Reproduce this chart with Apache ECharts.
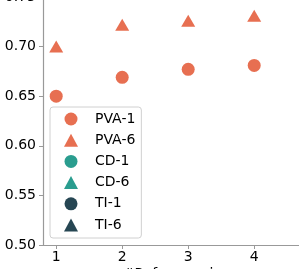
<!DOCTYPE html>
<html>
<head>
<meta charset="utf-8">
<script src="https://cdn.jsdelivr.net/npm/echarts@6/dist/echarts.min.js"></script>
<style>html,body{margin:0;padding:0;background:#fff;}#c{width:299px;height:269px;}</style>
</head>
<body>
<div id="c"></div>
<script>
// Data
const xValues = [1, 2, 3, 4];
const pva1 = [0.650, 0.669, 0.677, 0.681];
const pva6 = [0.700, 0.722, 0.726, 0.731];
const cd1 = [];   // not visible in the cropped view
const cd6 = [];
const ti1 = [];
const ti6 = [];
const xTicks = [1, 2, 3, 4, 5];
const yTickLabels = ['0.50', '0.55', '0.60', '0.65', '0.70', '0.75'];
const seriesNames = ['PVA-1', 'PVA-6', 'CD-1', 'CD-6', 'TI-1', 'TI-6'];

const C_PVA = '#e76f51', C_CD = '#2a9d8f', C_TI = '#264653';
const FONT = 'DejaVu Sans';
const pair = (ys) => ys.map((y, i) => [xValues[i], y]);

function mk(name, ys, color, shape) {
  return {
    name, type: 'scatter', data: pair(ys),
    symbol: shape,
    symbolSize: shape === 'circle' ? 13 : [14, 12],
    itemStyle: { color, opacity: 1 },
    z: 3
  };
}

const chart = echarts.init(document.getElementById('c'), null, { renderer: 'canvas' });
chart.setOption({
  animation: false,
  backgroundColor: '#fff',
  textStyle: { fontFamily: FONT },
  grid: { left: 43, top: -13, width: 297, height: 258, containLabel: false, outerBoundsMode: 'none' },
  xAxis: {
    type: 'value', min: 0.8, max: 5.3,
    name: '#Reference images', nameLocation: 'middle', nameGap: 22, nameMoveOverlap: false,
    nameTextStyle: { fontSize: 14, color: '#000', fontFamily: FONT, verticalAlign: 'top' },
    axisLine: { show: true, lineStyle: { color: '#999', width: 1.2 } },
    axisTick: { show: true, length: 4, lineStyle: { color: '#999' }, customValues: xTicks },
    axisLabel: { fontSize: 14, color: '#000', margin: 5, fontFamily: FONT, customValues: xTicks },
    splitLine: { show: false }
  },
  yAxis: {
    type: 'value', min: 0.5, max: 0.76, interval: 0.05,
    axisLine: { show: true, lineStyle: { color: '#999', width: 1.2 } },
    axisTick: { show: true, length: 4, lineStyle: { color: '#999' } },
    axisLabel: {
      fontSize: 14, color: '#000', margin: 7, fontFamily: FONT, showMaxLabel: true,
      formatter: (v) => { const s = v.toFixed(2); return yTickLabels.includes(s) ? s : ''; }
    },
    splitLine: { show: false }
  },
  legend: {
    orient: 'vertical', left: 50, top: 107,
    data: seriesNames,
    itemWidth: 14, itemHeight: 13, itemGap: 7.2,
    padding: [5, 6, 6, 14],
    backgroundColor: 'rgba(255,255,255,0.85)',
    borderColor: '#d0d0d0', borderWidth: 1, borderRadius: 3,
    textStyle: { fontSize: 14, color: '#000', fontFamily: FONT, lineHeight: 14, padding: [0, 0, 0, 12] }
  },
  series: [
    mk('PVA-1', pva1, C_PVA, 'circle'),
    mk('PVA-6', pva6, C_PVA, 'triangle'),
    mk('CD-1', cd1, C_CD, 'circle'),
    mk('CD-6', cd6, C_CD, 'triangle'),
    mk('TI-1', ti1, C_TI, 'circle'),
    mk('TI-6', ti6, C_TI, 'triangle')
  ]
});
</script>
</body>
</html>
